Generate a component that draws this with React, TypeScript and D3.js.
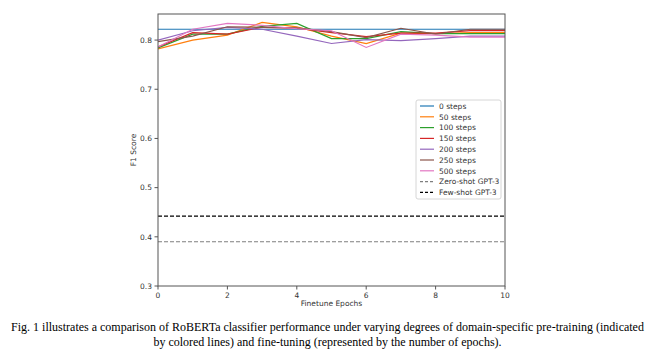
import React from "react";
import * as d3 from "d3";

const epochs = [0, 1, 2, 3, 4, 5, 6, 7, 8, 9, 10];
const seriesNames = ["0 steps", "50 steps", "100 steps", "150 steps", "200 steps", "250 steps", "500 steps"];
const steps0 = [0.822, 0.822, 0.822, 0.822, 0.822, 0.822, 0.822, 0.822, 0.822, 0.822, 0.822];
const steps50 = [0.782, 0.800, 0.810, 0.836, 0.827, 0.808, 0.793, 0.814, 0.813, 0.815, 0.815];
const steps100 = [0.784, 0.812, 0.812, 0.828, 0.834, 0.803, 0.803, 0.817, 0.813, 0.813, 0.813];
const steps150 = [0.786, 0.815, 0.812, 0.826, 0.824, 0.815, 0.807, 0.814, 0.814, 0.819, 0.819];
const steps200 = [0.800, 0.819, 0.826, 0.822, 0.808, 0.793, 0.801, 0.799, 0.803, 0.808, 0.808];
const steps250 = [0.797, 0.808, 0.827, 0.826, 0.825, 0.817, 0.805, 0.824, 0.812, 0.822, 0.822];
const steps500 = [0.786, 0.822, 0.834, 0.830, 0.823, 0.819, 0.785, 0.812, 0.810, 0.806, 0.806];
const zeroShot = 0.39;
const fewShot = 0.442;
const xTicks = [0, 2, 4, 6, 8, 10];
const yTicks = [0.3, 0.4, 0.5, 0.6, 0.7, 0.8];
const colors = ["#1f77b4", "#ff7f0e", "#2ca02c", "#d62728", "#9467bd", "#8c564b", "#e377c2"];
const caption1 = "Fig. 1 illustrates a comparison of RoBERTa classifier performance under varying degrees of domain-specific pre-training (indicated";
const caption2 = "by colored lines) and fine-tuning (represented by the number of epochs).";

export default function App() {
  const W = 655, H = 356;
  const left = 158, right = 505, top = 14, bottom = 286;
  const x = d3.scaleLinear().domain([0, 10]).range([left, right]);
  const y = d3.scaleLinear().domain([0.3, 0.853]).range([bottom, top]);
  const allSeries = [steps0, steps50, steps100, steps150, steps200, steps250, steps500];
  const line = d3.line<number>().x((_, i) => x(epochs[i])).y((d) => y(d));
  const font = "'DejaVu Sans', sans-serif";
  const legendX = 416, legendY = 100;
  const legendItems = [
    ...seriesNames.map((n, i) => ({ name: n, color: colors[i], dash: "" })),
    { name: "Zero-shot GPT-3", color: "#7f7f7f", dash: "3,2" },
    { name: "Few-shot GPT-3", color: "#000", dash: "3,2" },
  ];
  return (
    <div style={{ position: "absolute", left: 0, top: 0 }}>
      <svg width={W} height={H} style={{ display: "block" }}>
        <rect width={W} height={H} fill="#fff" />
        <g clipPath="url(#clip)">
          <line x1={left} x2={right} y1={y(zeroShot)} y2={y(zeroShot)} stroke="#7f7f7f" strokeWidth={1.2} strokeDasharray="4,2" />
          <line x1={left} x2={right} y1={y(fewShot)} y2={y(fewShot)} stroke="#000" strokeWidth={1.2} strokeDasharray="4,2" />
          {allSeries.map((s, i) => (
            <path key={i} d={line(s) || ""} fill="none" stroke={colors[i]} strokeWidth={1.2} />
          ))}
        </g>
        <defs>
          <clipPath id="clip">
            <rect x={left} y={top} width={right - left} height={bottom - top} />
          </clipPath>
        </defs>
        <rect x={left} y={top} width={right - left} height={bottom - top} fill="none" stroke="#555" strokeWidth={1} />
        {xTicks.map((t) => (
          <g key={t}>
            <line x1={x(t)} x2={x(t)} y1={bottom} y2={bottom + 3.5} stroke="#555" />
            <text x={x(t)} y={bottom + 12} textAnchor="middle" fontSize={7.5} fill="#333" fontFamily={font}>{t}</text>
          </g>
        ))}
        {yTicks.map((t) => (
          <g key={t}>
            <line x1={left - 3.5} x2={left} y1={y(t)} y2={y(t)} stroke="#555" />
            <text x={left - 6} y={y(t) + 2.7} textAnchor="end" fontSize={7.5} fill="#333" fontFamily={font}>{t.toFixed(1)}</text>
          </g>
        ))}
        <text x={(left + right) / 2} y={306} textAnchor="middle" fontSize={7.5} fill="#333" fontFamily={font}>Finetune Epochs</text>
        <text transform={`translate(136,${(top + bottom) / 2}) rotate(-90)`} textAnchor="middle" fontSize={7.5} fill="#333" fontFamily={font}>F1 Score</text>
        <rect x={legendX} y={legendY} width={85} height={99} fill="#fff" stroke="#ccc" strokeWidth={0.8} rx={2} />
        {legendItems.map((it, i) => (
          <g key={it.name}>
            <line x1={legendX + 4} x2={legendX + 18} y1={legendY + 6 + i * 10.8} y2={legendY + 6 + i * 10.8} stroke={it.color} strokeWidth={1.2} strokeDasharray={it.dash} />
            <text x={legendX + 23} y={legendY + 8.7 + i * 10.8} fontSize={7.5} fill="#333" fontFamily={font}>{it.name}</text>
          </g>
        ))}
        <text x={W / 2} y={331} textAnchor="middle" fontSize={12} fill="#000" fontFamily="'Liberation Serif', serif">{caption1}</text>
        <text x={W / 2} y={346} textAnchor="middle" fontSize={12} fill="#000" fontFamily="'Liberation Serif', serif">{caption2}</text>
      </svg>
    </div>
  );
}
